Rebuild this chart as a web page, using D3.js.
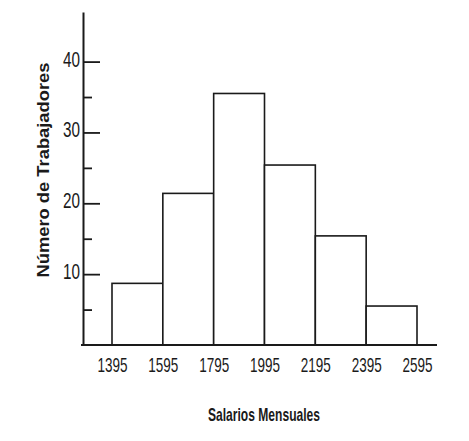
<!DOCTYPE html>
<html>
<head>
<meta charset="utf-8">
<script src="https://cdn.jsdelivr.net/npm/d3@7"></script>
<style>
html,body{margin:0;padding:0;background:#fff;}
svg{display:block;}
</style>
</head>
<body>
<svg id="chart" width="469" height="441"></svg>
<script>
const binEdges = [1395, 1595, 1795, 1995, 2195, 2395, 2595];
const counts = [8.7, 21.4, 35.5, 25.4, 15.4, 5.5];
const majorTicks = [10, 20, 30, 40];
const minorTicks = [5, 15, 25, 35];
const xTitle = "Salarios Mensuales";
const yTitle = "Número de Trabajadores";

const svg = d3.select("#chart");
const ink = "#1a1a1a";
const narrow = "'Liberation Sans Narrow', 'Liberation Sans', Arial, sans-serif";

const x = d3.scaleLinear().domain([1395, 2595]).range([112, 417]);
const y = d3.scaleLinear().domain([0, 47]).range([345, 12]);
const axisX = 83;

const bins = counts.map((c, i) => ({x0: binEdges[i], x1: binEdges[i + 1], c}));

// bars
svg.append("g").selectAll("rect").data(bins).join("rect")
  .attr("x", d => x(d.x0))
  .attr("y", d => y(d.c))
  .attr("width", d => x(d.x1) - x(d.x0))
  .attr("height", d => y(0) - y(d.c))
  .attr("fill", "#fff")
  .attr("stroke", ink)
  .attr("stroke-width", 1.6);

// y axis major
const gy = svg.append("g").attr("transform", `translate(${axisX},0)`)
  .call(d3.axisLeft(y).tickValues(majorTicks).tickSize(-17).tickSizeOuter(0).tickPadding(3));
gy.select(".domain").attr("stroke", ink).attr("stroke-width", 2);
gy.selectAll(".tick line").attr("stroke", ink).attr("stroke-width", 1.8);
gy.selectAll(".tick text")
  .attr("font-family", narrow)
  .attr("font-size", 22).attr("fill", ink).attr("dy", "0.2em")
  .attr("textLength", 17).attr("lengthAdjust", "spacingAndGlyphs");

// y axis minor
const gm = svg.append("g").attr("transform", `translate(${axisX},0)`)
  .call(d3.axisLeft(y).tickValues(minorTicks).tickSize(-9).tickFormat(""));
gm.select(".domain").remove();
gm.selectAll(".tick line").attr("stroke", ink).attr("stroke-width", 1.8);

// x axis
const gx = svg.append("g").attr("transform", `translate(0,${y(0)})`)
  .call(d3.axisBottom(x).tickValues(binEdges).tickSize(0).tickPadding(12).tickFormat(d3.format("d")));
gx.select(".domain").remove();
gx.selectAll(".tick text")
  .attr("font-family", narrow)
  .attr("font-size", 21).attr("fill", ink)
  .attr("textLength", 30).attr("lengthAdjust", "spacingAndGlyphs");

svg.append("line")
  .attr("x1", axisX - 2).attr("x2", x(2595) + 20)
  .attr("y1", y(0)).attr("y2", y(0))
  .attr("stroke", ink).attr("stroke-width", 2.2);

// titles
svg.append("text")
  .attr("x", 264).attr("y", 421)
  .attr("text-anchor", "middle")
  .attr("font-family", narrow)
  .attr("font-weight", "bold").attr("font-size", 19).attr("fill", ink)
  .attr("textLength", 112).attr("lengthAdjust", "spacingAndGlyphs")
  .text(xTitle);

svg.append("text")
  .attr("transform", "translate(49,170) rotate(-90)")
  .attr("text-anchor", "middle")
  .attr("font-family", "'Liberation Sans', Arial, sans-serif")
  .attr("font-weight", "bold").attr("font-size", 17).attr("fill", ink)
  .attr("textLength", 215).attr("lengthAdjust", "spacingAndGlyphs")
  .text(yTitle);
</script>
</body>
</html>
